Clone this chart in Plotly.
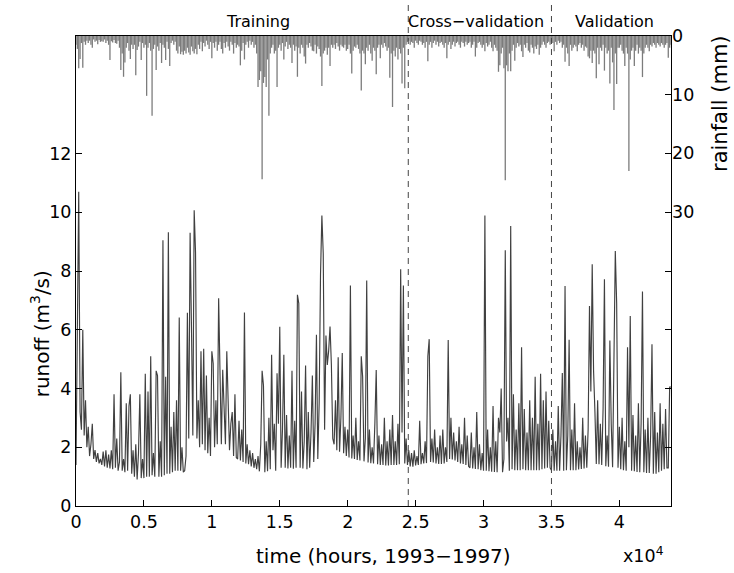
import plotly.graph_objects as go

# ---------------- data ----------------
hours = list(range(0, 43801, 100))          # sampling grid, hours since 1993

runoff = [  # m^3/s, one value per 100 h
    1.4, 7.4, 10.7, 3.2, 2.6, 6.0, 2.4, 3.6, 2.0, 2.7,
    1.7, 2.1, 2.8, 1.6, 1.9, 1.5, 1.8, 1.45, 1.6, 1.4,
    1.85, 1.35, 1.9, 1.3, 1.75, 1.28, 1.9, 1.25, 3.8, 1.3,
    2.3, 1.2, 1.5, 4.55, 1.2, 1.6, 1.15, 3.5, 1.2, 3.4,
    3.8, 1.1, 1.9, 1.0, 2.1, 0.9, 1.8, 3.8, 0.95, 1.6,
    0.95, 4.5, 1.0, 3.9, 1.0, 5.1, 1.05, 1.8, 1.0, 4.6,
    4.44, 1.0, 2.2, 1.0, 9.05, 1.05, 4.4, 1.1, 9.32, 1.1,
    2.7, 1.15, 3.2, 1.2, 3.6, 1.2, 6.42, 1.2, 2.0, 1.15,
    1.2, 1.7, 6.58, 2.3, 9.3, 6.1, 2.4, 10.07, 8.62, 2.3,
    3.6, 2.0, 5.27, 2.1, 5.35, 1.9, 4.44, 1.8, 3.0, 1.7,
    5.27, 4.85, 2.0, 3.6, 2.1, 7.07, 3.8, 2.1, 4.64, 3.5,
    2.1, 5.27, 3.3, 1.9, 2.8, 3.2, 1.7, 3.8, 1.65, 1.6,
    2.9, 1.55, 2.6, 1.5, 6.59, 1.45, 2.1, 1.42, 1.9, 1.35,
    1.8, 1.3, 1.6, 1.25, 1.7, 1.18, 2.1, 4.6, 4.1, 1.15,
    2.2, 1.18, 3.0, 1.25, 5.15, 1.9, 2.8, 1.2, 4.52, 2.8,
    6.1, 1.3, 2.6, 5.15, 1.3, 3.1, 1.28, 2.4, 1.3, 4.6,
    1.27, 2.9, 1.3, 7.19, 6.9, 1.3, 3.9, 1.28, 2.2, 4.78,
    1.25, 3.2, 1.3, 2.5, 4.44, 1.5, 2.8, 5.83, 1.6, 3.5,
    7.89, 9.89, 8.59, 2.6, 5.8, 4.8, 5.29, 6.11, 4.8, 2.3,
    2.1, 3.6, 1.9, 5.06, 1.85, 3.0, 5.21, 1.8, 2.7, 1.7,
    2.6, 1.65, 7.51, 1.62, 2.4, 1.6, 3.0, 1.57, 2.2, 1.55,
    5.1, 4.4, 1.52, 2.3, 7.68, 1.48, 2.6, 1.46, 2.0, 1.45,
    2.8, 4.63, 1.42, 2.4, 1.4, 2.1, 1.4, 3.0, 1.38, 2.2,
    1.38, 2.6, 1.4, 3.1, 1.4, 2.2, 1.4, 2.8, 1.42, 8.06,
    2.5, 7.51, 1.45, 2.3, 1.4, 1.9, 1.35, 1.8, 1.34, 1.9,
    1.38, 1.7, 1.4, 2.9, 1.42, 1.8, 1.45, 2.2, 1.46, 5.1,
    5.68, 1.5, 2.3, 1.48, 2.6, 1.45, 2.0, 1.43, 2.4, 1.43,
    2.6, 1.45, 2.0, 1.5, 5.65, 1.6, 3.0, 1.58, 2.5, 1.55,
    2.2, 1.5, 2.7, 1.45, 2.1, 1.43, 3.0, 1.4, 2.4, 1.35,
    1.3, 2.5, 1.28, 2.0, 1.26, 3.2, 1.25, 2.1, 1.22, 1.8,
    1.2, 9.89, 1.2, 2.6, 1.18, 2.0, 1.17, 3.4, 1.16, 2.2,
    1.15, 3.0, 2.5, 4.0, 1.15, 1.6, 8.71, 2.2, 3.0, 1.2,
    9.53, 1.25, 3.8, 1.22, 2.6, 1.22, 3.5, 1.22, 5.4, 1.25,
    3.3, 1.22, 2.5, 1.22, 3.6, 1.22, 3.0, 1.22, 4.4, 1.22,
    2.8, 1.22, 4.5, 1.25, 3.6, 1.28, 3.9, 1.3, 2.9, 1.3,
    1.22, 2.6, 1.2, 2.2, 1.2, 3.4, 1.2, 2.4, 4.53, 1.2,
    7.49, 1.22, 2.4, 5.66, 1.22, 2.6, 1.22, 3.5, 1.22, 2.2,
    1.24, 2.0, 1.26, 3.0, 1.28, 2.4, 1.3, 2.6, 6.81, 3.9,
    8.23, 4.6, 3.2, 1.43, 3.6, 1.42, 2.8, 1.4, 3.3, 7.72,
    1.35, 2.4, 1.34, 5.63, 2.8, 1.32, 5.0, 8.68, 6.9, 1.3,
    2.7, 1.25, 3.0, 1.22, 2.2, 1.2, 5.4, 2.0, 6.47, 1.2,
    3.1, 1.18, 2.4, 1.16, 3.5, 1.15, 2.8, 7.3, 1.15, 2.6,
    1.12, 3.0, 1.12, 2.4, 5.51, 1.1, 3.2, 1.1, 2.5, 1.15,
    3.5, 1.2, 2.8, 1.25, 3.3, 1.3, 1.3, 4.05, 4.05,
]

rainfall = [  # mm, one value per 100 h
    1.5, 2.2, 5.5, 3.9, 1.2, 5.4, 1.0, 1.5, 0.8, 1.2,
    0.8, 1.5, 2.0, 0.6, 1.0, 0.8, 1.4, 0.7, 1.0, 0.9,
    1.0, 0.6, 1.2, 0.8, 1.5, 4.1, 0.9, 1.1, 0.7, 1.2,
    1.3, 0.8, 2.0, 5.8, 3.0, 6.95, 4.5, 2.0, 1.2, 2.5,
    3.9, 1.5, 2.2, 1.5, 6.7, 2.4, 1.8, 1.0, 4.1, 1.2,
    2.0, 1.5, 10.2, 2.0, 1.2, 2.5, 13.6, 2.2, 1.5, 5.8,
    1.8, 2.5, 1.2, 4.6, 1.5, 2.0, 4.1, 1.0, 2.2, 5.1,
    1.2, 0.8, 1.5, 1.0, 2.5, 3.0, 1.8, 3.1, 2.7, 3.2,
    2.5, 3.0, 2.0, 2.8, 3.2, 1.8, 2.6, 3.0, 2.2, 3.1,
    1.5, 2.2, 1.0, 2.6, 1.2, 1.8, 0.8, 1.5, 2.2, 1.0,
    3.8, 1.2, 2.0, 1.0, 2.5, 1.5, 1.0, 2.2, 3.0, 1.2,
    2.0, 1.0, 1.8, 2.5, 1.0, 1.5, 3.0, 1.2, 2.0, 1.5,
    1.8, 5.0, 2.5, 1.2, 4.0, 1.5, 1.0, 2.0, 0.8, 1.5,
    1.0, 2.0, 1.5, 3.0, 8.7, 7.5, 6.0, 24.4, 8.0, 7.0,
    8.7, 4.0, 13.6, 3.0, 2.0, 1.5, 3.0, 2.5, 8.7, 2.0,
    1.5, 2.5, 1.2, 4.0, 1.8, 1.0, 2.2, 1.5, 2.0, 4.6,
    1.5, 2.5, 1.8, 6.95, 2.0, 3.0, 1.5, 2.0, 3.5, 4.7,
    1.5, 2.0, 1.2, 1.8, 2.5, 2.6, 1.5, 3.0, 1.8, 2.2,
    3.5, 8.5, 3.0, 2.5, 2.0, 3.2, 2.0, 5.1, 1.5, 2.0,
    1.5, 2.2, 1.2, 1.8, 2.5, 1.5, 1.8, 2.0, 1.5, 2.5,
    2.2, 1.5, 3.0, 6.4, 2.5, 1.8, 2.0, 1.5, 2.2, 3.0,
    9.3, 2.5, 3.0, 4.8, 2.0, 2.5, 1.5, 3.0, 4.2, 2.0,
    2.5, 6.5, 2.0, 1.5, 3.8, 1.5, 2.0, 1.2, 1.8, 2.5,
    2.0, 7.1, 3.0, 12.1, 2.5, 3.5, 2.0, 4.0, 2.2, 3.0,
    8.1, 2.0, 8.9, 1.5, 1.0, 0.8, 1.5, 1.0, 1.2, 2.0,
    0.8, 1.2, 1.5, 0.8, 1.0, 1.5, 1.2, 2.0, 1.0, 4.3,
    1.5, 1.0, 2.0, 1.2, 0.8, 1.5, 1.0, 1.8, 1.2, 1.0,
    1.5, 2.0, 1.2, 3.8, 1.5, 1.0, 2.2, 1.5, 1.0, 1.8,
    1.2, 1.0, 1.5, 2.0, 1.0, 1.2, 1.8, 1.0, 1.5, 1.2,
    1.0, 2.0, 1.5, 1.0, 3.5, 2.0, 1.2, 1.0, 1.5, 2.0,
    1.5, 2.6, 1.2, 1.8, 1.5, 1.0, 2.0, 2.6, 1.5, 2.0,
    2.5, 6.1, 5.0, 3.0, 2.0, 5.5, 24.6, 5.0, 6.0, 3.0,
    6.0, 2.5, 1.5, 4.2, 2.0, 1.2, 1.8, 1.5, 2.6, 3.6,
    1.5, 2.0, 1.2, 2.5, 2.8, 1.5, 2.0, 3.0, 1.8, 2.2,
    1.5, 3.2, 2.0, 1.5, 1.0, 1.5, 2.0, 1.2, 1.0, 1.5,
    1.0, 1.2, 2.6, 1.0, 1.5, 0.8, 1.2, 1.0, 2.0, 1.5,
    4.4, 2.0, 3.0, 5.1, 1.5, 2.5, 2.0, 1.5, 1.8, 2.6,
    1.5, 1.2, 2.0, 1.5, 2.5, 1.8, 2.0, 3.5, 3.8, 2.5,
    4.6, 2.5, 3.0, 7.2, 2.0, 4.8, 2.0, 2.5, 1.5, 5.9,
    2.0, 3.0, 2.5, 8.1, 2.0, 4.5, 12.6, 3.0, 8.2, 2.0,
    2.0, 1.5, 2.5, 3.0, 5.1, 2.0, 3.0, 23.0, 4.0, 2.5,
    2.0, 5.1, 2.5, 1.5, 3.0, 2.0, 2.5, 7.0, 3.0, 2.0,
    1.5, 2.0, 2.6, 1.5, 1.8, 1.2, 1.5, 2.0, 1.2, 1.5,
    1.8, 1.2, 1.5, 2.0, 1.5, 1.2, 3.7, 2.0, 1.5,
]

split_hours = [24460, 35000]                       # period boundaries
period_labels = ["Training", "Cross\u2212validation", "Validation"]
period_label_hours = [13420, 29480, 39640]

x_ticks = [0, 5000, 10000, 15000, 20000, 25000, 30000, 35000, 40000]
x_tick_labels = ["0", "0.5", "1", "1.5", "2", "2.5", "3", "3.5", "4"]
runoff_ticks = [0, 2, 4, 6, 8, 10, 12]
rain_ticks = [0, 10, 20, 30]

assert len(runoff) == len(hours), (len(runoff), len(hours))
assert len(rainfall) == len(hours), (len(rainfall), len(hours))

# ---------------- figure ----------------
FONT = "DejaVu Sans"
RUNOFF_COLOR = "#404040"
RAIN_COLOR = "#7c7c7c"

rain_x, rain_y = [], []
for t, v in zip(hours, rainfall):
    rain_x += [t, t, None]
    rain_y += [0, v, None]

fig = go.Figure()
fig.add_trace(go.Scatter(x=rain_x, y=rain_y, yaxis="y2", mode="lines",
                         line=dict(color=RAIN_COLOR, width=1.3),
                         hoverinfo="skip", showlegend=False))
fig.add_trace(go.Scatter(x=hours, y=runoff, mode="lines",
                         line=dict(color=RUNOFF_COLOR, width=1.15),
                         showlegend=False))

for s in split_hours:
    fig.add_shape(type="line", xref="x", yref="paper", x0=s, x1=s, y0=0, y1=1.07,
                  line=dict(color="#444444", width=1, dash="6px,5px"))

annotations = []
for lab, h in zip(period_labels, period_label_hours):
    annotations.append(dict(text=lab, x=h, xref="x", y=1.030, yref="paper",
                            showarrow=False, xanchor="center", yanchor="middle",
                            font=dict(family=FONT, size=16, color="black")))
annotations += [
    dict(text="time (hours, 1993\u22121997)", x=0.5165, y=-0.106, xref="paper", yref="paper",
         showarrow=False, xanchor="center", yanchor="middle",
         font=dict(family=FONT, size=20, color="black")),
    dict(text="x10<sup>4</sup>", x=0.9535, y=-0.104, xref="paper", yref="paper",
         showarrow=False, xanchor="center", yanchor="middle",
         font=dict(family=FONT, size=17.5, color="black")),
    dict(text="runoff (m<sup>3</sup>/s)", x=-0.060, y=0.366, xref="paper", yref="paper",
         showarrow=False, textangle=-90, xanchor="center", yanchor="middle",
         font=dict(family=FONT, size=20, color="black")),
    dict(text="rainfall (mm)", x=1.082, y=0.857, xref="paper", yref="paper",
         showarrow=False, textangle=-90, xanchor="center", yanchor="middle",
         font=dict(family=FONT, size=21, color="black")),
]

fig.update_layout(
    width=734, height=573, autosize=False,
    margin=dict(l=76, r=63, t=36, b=67, pad=0),
    paper_bgcolor="white", plot_bgcolor="white",
    font=dict(family=FONT, size=17.5, color="black"),
    showlegend=False,
    annotations=annotations,
    xaxis=dict(range=[0, 43800], tickmode="array", tickvals=x_ticks, ticktext=x_tick_labels,
               ticks="inside", ticklen=6, tickcolor="black", tickwidth=1,
               showline=True, linecolor="black", linewidth=1, mirror=True,
               showgrid=False, zeroline=False,
               tickfont=dict(family=FONT, size=17.5, color="black")),
    yaxis=dict(range=[0, 16], tickmode="array", tickvals=runoff_ticks,
               ticks="inside", ticklen=6, tickcolor="black", tickwidth=1,
               showline=True, linecolor="black", linewidth=1, mirror="ticks",
               showgrid=False, zeroline=False,
               tickfont=dict(family=FONT, size=17.5, color="black")),
    yaxis2=dict(range=[80.1, 0], overlaying="y", side="right", tickmode="array",
                tickvals=rain_ticks, ticks="inside", ticklen=6, tickcolor="black",
                tickwidth=1, showline=False, showgrid=False, zeroline=False,
                tickfont=dict(family=FONT, size=17.5, color="black")),
)

fig.write_html("out.html")
